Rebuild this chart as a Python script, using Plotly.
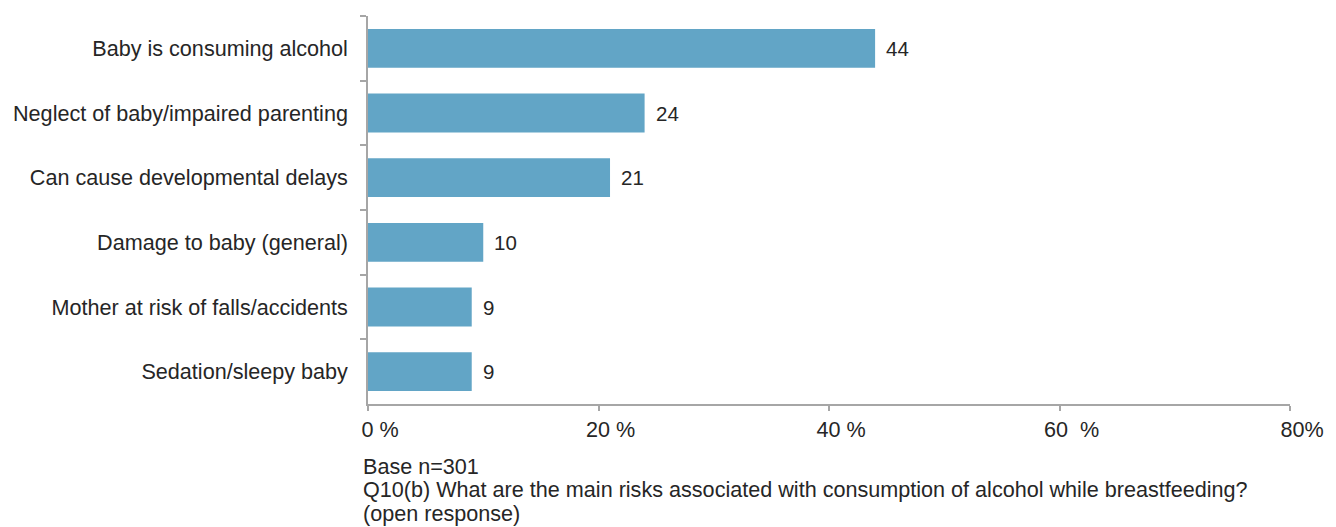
import plotly.graph_objects as go

categories = [
    "Baby is consuming alcohol",
    "Neglect of baby/impaired parenting",
    "Can cause developmental delays",
    "Damage to baby (general)",
    "Mother at risk of falls/accidents",
    "Sedation/sleepy baby",
]
values = [44, 24, 21, 10, 9, 9]
tick_values = [0, 20, 40, 60, 80]
tick_labels = ["0 %", "20 %", "40 %", "60  %", "80%"]
footnotes = [
    "Base n=301",
    "Q10(b) What are the main risks associated with consumption of alcohol while breastfeeding?",
    "(open response)",
]

FONT = "Liberation Sans, Arial, sans-serif"
TEXT = "#262626"
AXIS = "#a6a6a6"
SIZE = 21.6

fig = go.Figure(
    go.Bar(
        x=values,
        y=categories,
        orientation="h",
        marker=dict(color="#62a5c6", line=dict(width=0)),
        hoverinfo="skip",
    )
)

# value labels to the right of each bar
for cat, val in zip(categories, values):
    fig.add_annotation(
        x=val, y=cat, xref="x", yref="y",
        text=str(val), showarrow=False,
        xanchor="left", xshift=9,
        font=dict(family=FONT, size=20.5, color=TEXT),
    )

# footnote lines under the axis
for i, line in enumerate(footnotes):
    fig.add_annotation(
        x=0, y=0, xref="paper", yref="paper",
        text=line, showarrow=False,
        xanchor="left", yanchor="middle",
        xshift=-7, yshift=-62 - 23.5 * i,
        font=dict(family=FONT, size=SIZE, color=TEXT),
    )

fig.update_layout(
    width=1336, height=527,
    margin=dict(l=368, r=37, t=16, b=123),
    paper_bgcolor="white", plot_bgcolor="white",
    bargap=0.4,
    showlegend=False,
    font=dict(family=FONT, size=SIZE, color=TEXT),
    xaxis=dict(
        range=[0, 80],
        tickvals=tick_values, ticktext=tick_labels,
        ticklabelshift=12,
        showgrid=False, zeroline=False,
        showline=True, linecolor=AXIS, linewidth=1.5,
        ticks="outside", ticklen=5, tickcolor=AXIS, tickwidth=1.5,
        tickfont=dict(family=FONT, size=SIZE, color=TEXT),
    ),
    yaxis=dict(
        autorange="reversed",
        showgrid=False, zeroline=False,
        showline=True, linecolor=AXIS, linewidth=1.5,
        ticks="outside", ticklen=6, tickcolor=AXIS, tickwidth=1.5,
        tickson="boundaries",
        ticklabelstandoff=14,
        tickfont=dict(family=FONT, size=SIZE, color=TEXT),
    ),
)

fig.write_html("out.html")
